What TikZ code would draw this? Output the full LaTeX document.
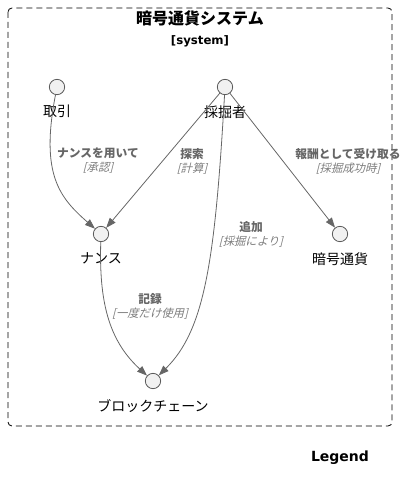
\documentclass[tikz,border=0pt]{standalone}
\usepackage{fontspec}
\setmainfont{DejaVu Sans}
\newfontfamily\jp{Noto Sans CJK JP}
\newfontfamily\jpit[FakeSlant=0.25]{Noto Sans CJK JP}
\usetikzlibrary{arrows.meta,positioning,calc}
\definecolor{actorfill}{HTML}{F1F1F1}
\definecolor{actorline}{HTML}{5A5A5A}
\definecolor{relgray}{HTML}{666666}
\definecolor{ink}{HTML}{000000}
\newcommand{\cond}[1]{{\jpit\mdseries\fontsize{8.5}{10.5}\selectfont\color{relgray!85}[#1]}}

\begin{document}
\begin{tikzpicture}[
  x=0.75pt, y=-0.75pt,
  node distance=6.5pt,
  actor/.style={circle, draw=actorline, fill=actorfill, line width=0.6pt, minimum size=11.5pt, inner sep=0pt},
  actorname/.style={font=\jp\fontsize{10.5}{12}\selectfont, text=ink, inner sep=1pt},
  rel/.style={-{Triangle[length=7.5pt, width=5.5pt]}, line width=0.6pt, draw=relgray},
  lbl/.style={font=\jp\bfseries\fontsize{8.8}{10.5}\selectfont, text=relgray, align=center, inner sep=0pt},
  bound/.style={draw=ink, dashed, dash pattern=on 4.5pt off 3pt, rounded corners=3pt, line width=0.6pt}
]
\useasboundingbox (0,0) rectangle (409,492);
\draw[bound] (8,8) rectangle (392,426);
\node[font=\jp\bfseries\fontsize{12}{14}\selectfont] (title) at (200,18) {暗号通貨システム};
\node[font=\bfseries\fontsize{8.8}{10}\selectfont, below=0pt of title] {[system]};

% actors
\node[actor] (deal) at (57,87) {};
\node[actor] (miner) at (225,87) {};
\node[actor] (nonce) at (101,234) {};
\node[actor] (coin) at (340,234) {};
\node[actor] (chain) at (153,381) {};

\node[actorname, below=of deal] {取引};
\node[actorname, below=of miner] {採掘者};
\node[actorname, below=of nonce] {ナンス};
\node[actorname, below=of coin] {暗号通貨};
\node[actorname, below=of chain] {ブロックチェーン};

% relations
\draw[rel] (deal) .. controls (40,175) and (60,198) .. (nonce);
\draw[rel] (miner) -- (nonce);
\draw[rel] (miner) -- (coin);
\draw[rel] (miner) .. controls (215,260) and (205,330) .. (chain);
\draw[rel] (nonce) .. controls (99,300) and (108,340) .. (chain);

\node[lbl] at (98,161) {ナンスを用いて\\\cond{承認}};
\node[lbl] at (192,161) {探索\\\cond{計算}};
\node[lbl] at (348,161) {報酬として受け取る\\\cond{採掘成功時}};
\node[lbl] at (251,234) {追加\\\cond{採掘により}};
\node[lbl] at (150,306) {記録\\\cond{一度だけ使用}};

\node[font=\bfseries\fontsize{10.5}{12}\selectfont] (legend) at (340,458) {Legend};
\end{tikzpicture}
\end{document}
